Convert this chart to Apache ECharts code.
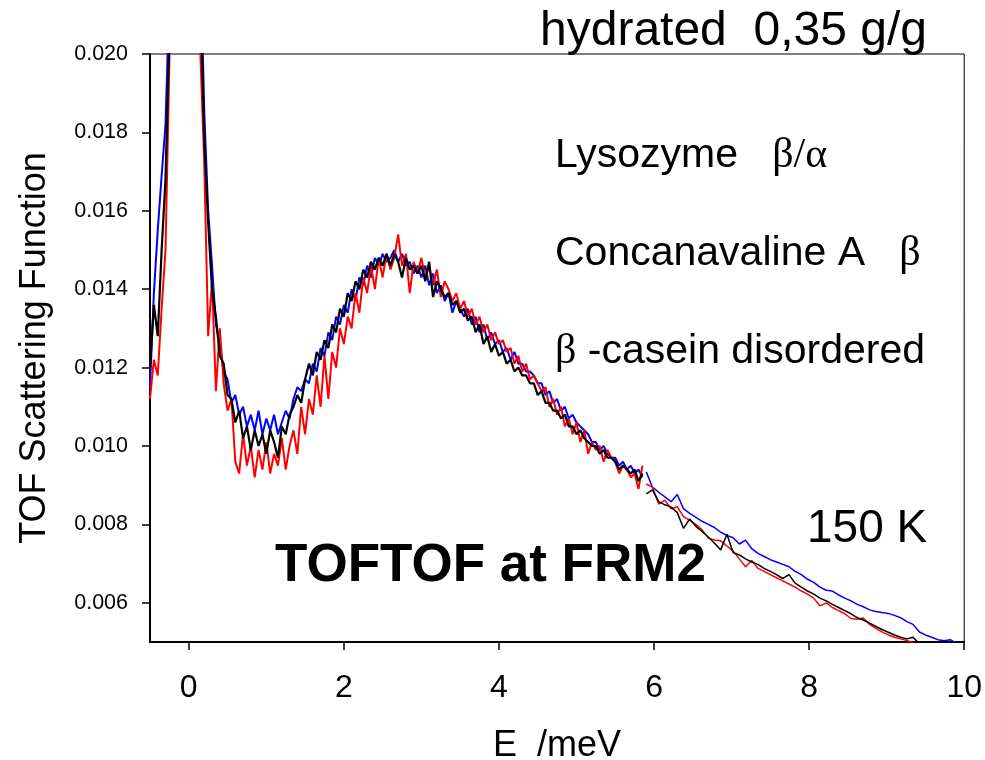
<!DOCTYPE html>
<html>
<head>
<meta charset="utf-8">
<script src="https://cdn.jsdelivr.net/npm/echarts@6/dist/echarts.min.js"></script>
<style>html,body{margin:0;padding:0;background:#fff}#c{width:985px;height:760px}</style>
</head>
<body>
<div id="c"></div>
<script>
// ---- data ----
const xLeft = [-0.5,-0.45,-0.4,-0.35,-0.3,-0.25,-0.2,-0.15,-0.1,-0.05,0,0.05,0.1,0.15,0.2,0.25,0.3,0.35,0.4,0.45,0.5,0.55,0.6,0.65,0.7,0.75,0.8,0.85,0.9,0.95,1,1.05,1.1,1.15,1.2,1.25,1.3,1.35,1.4,1.45,1.5,1.55,1.6,1.65,1.7,1.75,1.8,1.85,1.9,1.95,2,2.05,2.1,2.15,2.2,2.25,2.3,2.35,2.4,2.45,2.5,2.55,2.6,2.65,2.7,2.75,2.8,2.85,2.9,2.95,3,3.05,3.1,3.15,3.2,3.25,3.3,3.35,3.4,3.45,3.5,3.55,3.6,3.65,3.7,3.75,3.8,3.85,3.9,3.95,4,4.05,4.1,4.15,4.2,4.25,4.3,4.35,4.4,4.45,4.5,4.55,4.6,4.65,4.7,4.75,4.8,4.85,4.9,4.95,5,5.05,5.1,5.15,5.2,5.25,5.3,5.35,5.4,5.45,5.5,5.55,5.6,5.65,5.7,5.75,5.8,5.85];
const blackLeft = [0.0120,0.0136,0.0128,0.0150,0.0168,0.0205,0.0260,0.0320,0.0380,0.0420,
0.0430,0.0400,0.0320,0.0215,0.0178,0.0157,0.0140,0.0133,0.0123,0.0121,
0.0113,0.0112,0.0106,0.0109,0.0102,0.0105,0.0099,0.0104,0.0100,0.0103,
0.0098,0.0104,0.0101,0.0097,0.0105,0.0103,0.0108,0.0110,0.0113,0.0111,
0.0117,0.0121,0.0118,0.0124,0.0122,0.0127,0.0125,0.0131,0.0129,0.0135,
0.0133,0.0139,0.0137,0.0142,0.0140,0.0145,0.0143,0.0147,0.0145,0.0148,
0.0146,0.0149,0.0146,0.0149,0.0147,0.0143,0.0148,0.0145,0.0146,0.0144,
0.0146,0.0142,0.0147,0.0138,0.0142,0.0140,0.0138,0.0139,0.0136,0.0137,
0.0134,0.0135,0.0132,0.0133,0.0129,0.0131,0.0126,0.0128,0.0124,0.0126,
0.0123,0.0124,0.0121,0.0122,0.0119,0.0120,0.0118,0.0118,0.0116,0.0116,
0.0113,0.0114,0.0111,0.0111,0.0109,0.0109,0.0107,0.0108,0.0105,0.0105,
0.0103,0.0104,0.0102,0.0101,0.0100,0.0100,0.0098,0.0099,0.0097,0.0097,
0.0096,0.0094,0.0095,0.0094,0.0093,0.0094,0.0091,0.0093];
const blueLeft = [0.0115,0.0139,0.0155,0.0169,0.0182,0.0215,0.0270,0.0330,0.0390,0.0430,
0.0440,0.0410,0.0330,0.0225,0.0185,0.0160,0.0146,0.0131,0.0126,0.0119,
0.0117,0.0111,0.0113,0.0108,0.0110,0.0105,0.0108,0.0104,0.0109,0.0103,
0.0107,0.0104,0.0108,0.0103,0.0106,0.0109,0.0107,0.0112,0.0115,0.0114,
0.0117,0.0116,0.0121,0.0119,0.0125,0.0123,0.0129,0.0127,0.0133,0.0131,
0.0136,0.0134,0.0140,0.0137,0.0143,0.0141,0.0146,0.0143,0.0148,0.0146,
0.0149,0.0147,0.0148,0.0150,0.0147,0.0149,0.0146,0.0147,0.0144,0.0146,
0.0143,0.0146,0.0141,0.0144,0.0139,0.0141,0.0137,0.0139,0.0134,0.0137,
0.0135,0.0133,0.0135,0.0131,0.0133,0.0129,0.0131,0.0127,0.0129,0.0126,
0.0127,0.0124,0.0125,0.0122,0.0124,0.0121,0.0121,0.0119,0.0119,0.0118,
0.0116,0.0116,0.0113,0.0114,0.0111,0.0112,0.0109,0.0110,0.0107,0.0108,
0.0106,0.0105,0.0104,0.0103,0.0101,0.0101,0.0099,0.0100,0.0098,0.0097,
0.0097,0.0095,0.0096,0.0094,0.0095,0.0093,0.0094,0.0092];
const redLeft = [0.0112,0.0122,0.0118,0.0135,0.0150,0.0198,0.0250,0.0310,0.0370,0.0410,
0.0420,0.0390,0.0300,0.0200,0.0172,0.0128,0.0142,0.0114,0.0130,0.0116,
0.0109,0.0112,0.0096,0.0093,0.0103,0.0095,0.0100,0.0092,0.0099,0.0094,
0.0101,0.0093,0.0098,0.0095,0.0102,0.0094,0.0100,0.0104,0.0098,0.0110,
0.0103,0.0112,0.0108,0.0118,0.0110,0.0123,0.0112,0.0124,0.0120,0.0130,
0.0126,0.0133,0.0130,0.0139,0.0134,0.0143,0.0139,0.0146,0.0140,0.0148,
0.0143,0.0149,0.0145,0.0148,0.0154,0.0146,0.0149,0.0139,0.0147,0.0144,
0.0148,0.0143,0.0146,0.0141,0.0145,0.0138,0.0142,0.0140,0.0137,0.0139,
0.0135,0.0137,0.0133,0.0135,0.0131,0.0133,0.0129,0.0131,0.0127,0.0129,
0.0126,0.0127,0.0124,0.0125,0.0121,0.0123,0.0119,0.0121,0.0117,0.0118,
0.0116,0.0114,0.0115,0.0110,0.0112,0.0108,0.0110,0.0105,0.0107,0.0103,
0.0106,0.0101,0.0104,0.0098,0.0101,0.0099,0.0100,0.0096,0.0099,0.0097,
0.0096,0.0093,0.0095,0.0094,0.0092,0.0093,0.0089,0.0095];

const xRight = [5.9,5.98,6.06,6.14,6.22,6.3,6.38,6.46,6.54,6.62,6.7,6.78,6.86,6.94,7.02,7.1,7.18,7.26,7.34,7.42,7.5,7.58,7.66,7.74,7.82,7.9,7.98,8.06,8.14,8.22,8.3,8.38,8.46,8.54,8.62,8.7,8.78,8.86,8.94,9.02,9.1,9.18,9.26,9.34,9.42,9.5,9.58,9.66,9.74,9.82,9.9,9.98];
const blueRight = [0.00934,0.00895,0.00882,0.00870,0.00858,0.00876,0.00840,0.00828,0.00818,0.00808,
0.00800,0.00792,0.00780,0.00772,0.00766,0.00750,0.00760,0.00738,0.00726,0.00718,
0.00710,0.00704,0.00698,0.00692,0.00680,0.00672,0.00660,0.00652,0.00640,0.00632,
0.00630,0.00620,0.00612,0.00605,0.00596,0.00590,0.00582,0.00578,0.00575,0.00573,
0.00568,0.00562,0.00552,0.00545,0.00526,0.00518,0.00512,0.00506,0.00503,0.00506,
0.00497,0.00490];
const blackRight = [0.00878,0.00888,0.00858,0.00850,0.00844,0.00830,0.00790,0.00814,0.00795,0.00782,
0.00768,0.00752,0.00735,0.00775,0.00728,0.00722,0.00712,0.00704,0.00698,0.00688,
0.00680,0.00672,0.00662,0.00672,0.00650,0.00640,0.00630,0.00622,0.00612,0.00605,
0.00596,0.00588,0.00580,0.00572,0.00562,0.00556,0.00548,0.00540,0.00532,0.00525,
0.00518,0.00512,0.00508,0.00512,0.00496,0.00492,0.00494,0.00486,0.00480,0.00475,
0.00470,0.00465];
const redRight = [0.00903,0.00895,0.00852,0.00862,0.00840,0.00845,0.00820,0.00810,0.00800,0.00786,
0.00765,0.00760,0.00758,0.00745,0.00732,0.00712,0.00692,0.00708,0.00688,0.00680,
0.00672,0.00664,0.00656,0.00648,0.00640,0.00630,0.00622,0.00612,0.00592,0.00600,
0.00588,0.00580,0.00572,0.00560,0.00558,0.00561,0.00545,0.00535,0.00526,0.00518,
0.00512,0.00508,0.00504,0.00498,0.00490,0.00485,0.00480,0.00475,0.00470,0.00466,
0.00462,0.00458];

const xTicks = [0, 2, 4, 6, 8, 10];
const yTicks = [0.006, 0.008, 0.010, 0.012, 0.014, 0.016, 0.018, 0.020];

// ---- chart ----
const FONT = "'Liberation Sans', Arial, sans-serif";
const SERIF = "'Liberation Serif', 'DejaVu Serif', serif";
function pairs(xs, ys) { return xs.map((x, i) => [x, ys[i]]); }
function line(name, xs, ys, color, w) {
  return { name, type: 'line', data: pairs(xs, ys), showSymbol: false, symbol: 'none',
    lineStyle: { color, width: w }, itemStyle: { color }, clip: true, animation: false, z: 2 };
}
// y given as text baseline
function txt(text, x, base, size, opts) {
  opts = opts || {};
  return { type: 'text', x, y: base - 0.29 * size, rotation: opts.rotation || 0, z: 10,
    style: { text, fill: '#000', font: (opts.bold ? 'bold ' : '') + size + 'px ' + FONT,
      align: opts.align || 'left', verticalAlign: 'middle', rich: opts.rich } };
}

const chart = echarts.init(document.getElementById('c'), null, { renderer: 'canvas' });
const richG = { g: { fontFamily: SERIF, fontSize: 42, fill: '#000' }, n: { fontFamily: FONT, fontSize: 41, fill: '#000' } };

chart.setOption({
  animation: false,
  backgroundColor: '#fff',
  grid: { left: 150, top: 54, right: 19, bottom: 118, show: true, borderColor: '#000', borderWidth: 1, backgroundColor: 'transparent' },
  xAxis: {
    type: 'value', min: -0.5, max: 10,
    axisLine: { show: true, onZero: false, lineStyle: { color: '#000', width: 2 } },
    axisTick: { show: true, inside: false, length: 8, lineStyle: { color: '#000', width: 1.5 }, customValues: xTicks },
    axisLabel: { show: true, customValues: xTicks, color: '#000', fontSize: 32, fontFamily: FONT, margin: 30 },
    splitLine: { show: false }
  },
  yAxis: {
    type: 'value', min: 0.005, max: 0.020,
    axisLine: { show: true, onZero: false, lineStyle: { color: '#000', width: 2 } },
    axisTick: { show: true, inside: false, length: 8, lineStyle: { color: '#000', width: 1.5 }, customValues: yTicks },
    axisLabel: { show: true, customValues: yTicks, color: '#000', fontSize: 21.5, fontFamily: FONT, margin: 22,
      formatter: v => v.toFixed(3) },
    splitLine: { show: false }
  },
  series: [
    line('Lysozyme', xLeft, blueLeft, '#0000ff', 2),
    line('Concanavaline A', xLeft, redLeft, '#ff0000', 2),
    line('beta-casein', xLeft, blackLeft, '#000000', 2.2),
    line('Lysozyme (high E)', xRight, blueRight, '#0000ff', 1.5),
    line('Concanavaline A (high E)', xRight, redRight, '#ff0000', 1.5),
    line('beta-casein (high E)', xRight, blackRight, '#000000', 1.5)
  ],
  graphic: [
    txt('hydrated  0,35 g/g', 540, 46, 48),
    txt('{n|Lysozyme   }{g|β/α}', 555, 168, 41, { rich: richG }),
    txt('{n|Concanavaline A   }{g|β}', 555, 266, 41, { rich: richG }),
    txt('{g|β}{n| -casein disordered}', 555, 364, 41, { rich: richG }),
    txt('150 K', 807, 543, 46),
    txt('TOFTOF at FRM2', 275, 582, 53, { bold: true }),
    txt('E  /meV', 557, 757, 36, { align: 'center' }),
    { type: 'text', x: 35, y: 348, rotation: Math.PI / 2, z: 10,
      style: { text: 'TOF Scattering Function', fill: '#000', font: '36px ' + FONT, align: 'center', verticalAlign: 'middle' } }
  ]
});
</script>
</body>
</html>
